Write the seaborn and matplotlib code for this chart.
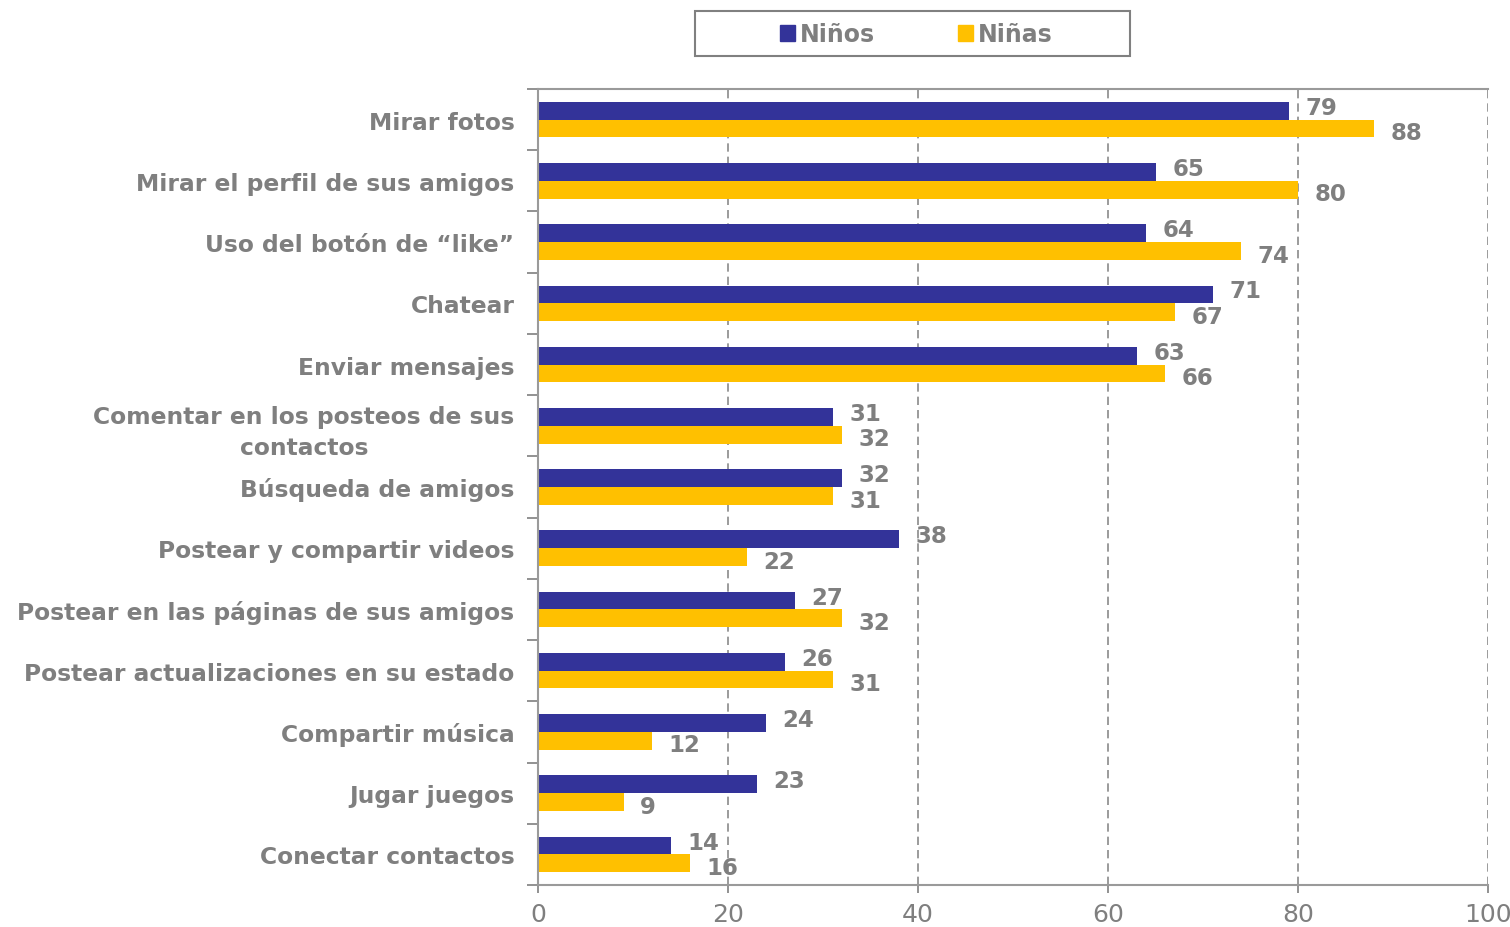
import matplotlib
matplotlib.use("Agg")
import matplotlib.pyplot as plt
import seaborn as sns
import pandas as pd
from matplotlib.patches import Rectangle

categorias = [
    "Mirar fotos",
    "Mirar el perfil de sus amigos",
    "Uso del botón de “like”",
    "Chatear",
    "Enviar mensajes",
    "Comentar en los posteos de sus\ncontactos",
    "Búsqueda de amigos",
    "Postear y compartir videos",
    "Postear en las páginas de sus amigos",
    "Postear actualizaciones en su estado",
    "Compartir música",
    "Jugar juegos",
    "Conectar contactos",
]
ninos = [79, 65, 64, 71, 63, 31, 32, 38, 27, 26, 24, 23, 14]
ninas = [88, 80, 74, 67, 66, 32, 31, 22, 32, 31, 12, 9, 16]
series = ["Niños", "Niñas"]
colores = ["#333399", "#FFC000"]
xticks = [0, 20, 40, 60, 80, 100]

df = pd.DataFrame({
    "cat": categorias * 2,
    "valor": ninos + ninas,
    "grupo": [series[0]] * len(categorias) + [series[1]] * len(categorias),
})

sns.set_theme(style="white")
plt.rcParams["font.family"] = ["DejaVu Sans"]
gray = "#7F7F7F"

fig = plt.figure(figsize=(15.1, 9.28), dpi=100)
ax = fig.add_axes([538 / 1510, 1 - 886 / 928, (1488 - 538) / 1510, (886 - 90) / 928])

sns.barplot(data=df, y="cat", x="valor", hue="grupo", orient="h",
            palette=colores, width=0.58, gap=0, ax=ax, legend=False,
            saturation=1, linewidth=0, errorbar=None)

ax.set_xlim(0, 100)
ax.set_ylim(len(categorias) - 0.5, -0.5)
ax.set_xlabel("")
ax.set_ylabel("")
ax.set_xticks(xticks)
ax.set_xticklabels([str(t) for t in xticks], fontsize=18, color=gray)
ax.set_yticks(range(len(categorias)))
ax.set_yticklabels(categorias, fontsize=16.8, fontweight="bold", color=gray,
                   linespacing=1.45)
for lbl in ax.get_yticklabels():
    lbl.set_horizontalalignment("right")
    lbl.set_multialignment("center")
ax.tick_params(axis="y", length=0, pad=17)
ax.tick_params(axis="x", length=6, color=gray, width=1.2, pad=6, direction="out", bottom=True)

# category boundary ticks on y axis
ax.set_yticks([i - 0.5 for i in range(len(categorias) + 1)], minor=True)
ax.tick_params(axis="y", which="minor", length=8, color=gray, width=1.2, left=True, direction="out")

for x in xticks[1:]:
    ax.axvline(x, color="#8A8A8A", linestyle=(0, (5, 3)), linewidth=1.2, zorder=0)

for side in ["left", "bottom", "top"]:
    ax.spines[side].set_visible(True)
    ax.spines[side].set_color("#9A9A9A")
    ax.spines[side].set_linewidth(1.5)
ax.spines["right"].set_visible(False)

for i, cont in enumerate(ax.containers):
    texts = ax.bar_label(cont, labels=[str(v) for v in (ninos if i == 0 else ninas)],
                         padding=12, fontsize=16.5, fontweight="bold", color=gray)
    dy = 2.5 if i == 0 else -3
    for t in texts:
        t.xyann = (t.xyann[0], dy)

# legend with a wide frame
fig.patches.append(Rectangle((695 / 1510, 1 - 57 / 928), (1130 - 695) / 1510, 45 / 928,
                             transform=fig.transFigure, fill=False,
                             edgecolor="#808080", linewidth=1.5))
handles = [plt.Rectangle((0, 0), 1, 1, color=c) for c in colores]
leg = fig.legend(handles, series, loc="center", bbox_to_anchor=(916 / 1510, 1 - 35 / 928),
                 ncol=2, frameon=False, fontsize=17,
                 handlelength=0.65, handleheight=0.65, handletextpad=0.2,
                 columnspacing=3.5, borderaxespad=0)
for t in leg.get_texts():
    t.set_color(gray)
    t.set_fontweight("bold")

fig.savefig("out.png", dpi=100)
